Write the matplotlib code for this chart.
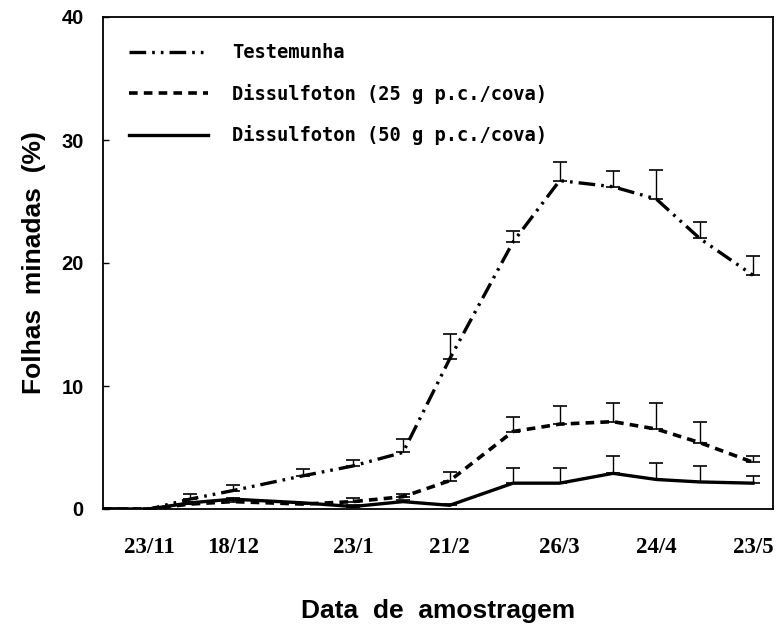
import matplotlib
matplotlib.use("Agg")
import matplotlib.pyplot as plt
import pandas as pd
import numpy as np

# ---- data ----
sample_dates = ['1989-11-09', '1989-11-23', '1989-12-05', '1989-12-18', '1990-01-08',
                '1990-01-23', '1990-02-07', '1990-02-21', '1990-03-12', '1990-03-26',
                '1990-04-11', '1990-04-24', '1990-05-07', '1990-05-23']
testemunha = [0, 0, 0.8, 1.5, 2.7, 3.5, 4.6, 12.2, 21.7, 26.7, 26.2, 25.2, 22.0, 19.0]
testemunha_err = [0, 0, 0.4, 0.45, 0.55, 0.5, 1.1, 2.0, 0.9, 1.5, 1.3, 2.4, 1.3, 1.6]
diss25 = [0, 0, 0.4, 0.6, 0.4, 0.6, 1.0, 2.3, 6.3, 6.9, 7.1, 6.5, 5.4, 3.8]
diss25_err = [0, 0, 0, 0.1, 0.1, 0.3, 0.2, 0.7, 1.2, 1.5, 1.5, 2.1, 1.7, 0.5]
diss50 = [0, 0, 0.5, 0.8, 0.5, 0.2, 0.6, 0.3, 2.1, 2.1, 2.9, 2.4, 2.2, 2.1]
diss50_err = [0, 0, 0.1, 0.1, 0, 0.1, 0.1, 0.1, 1.2, 1.2, 1.4, 1.3, 1.3, 0.6]
series_labels = ['Testemunha', 'Dissulfoton (25 g p.c./cova)', 'Dissulfoton (50 g p.c./cova)']
tick_dates = ['1989-11-23', '1989-12-18', '1990-01-23', '1990-02-21', '1990-03-26',
              '1990-04-24', '1990-05-23']
tick_labels = ['23/11', '18/12', '23/1', '21/2', '26/3', '24/4', '23/5']
yticks = [0, 10, 20, 30, 40]

x = pd.to_datetime(sample_dates)
W, H = 778, 628
fig = plt.figure(figsize=(W / 100, H / 100), dpi=100)
ax = fig.add_axes([103 / W, 1 - 509 / H, 670 / W, 492 / H])

styles = [
    dict(ls=(0, (5, 1.8, 0.8, 1.8, 0.8, 1.8)), lw=2.4),
    dict(ls=(0, (2.4, 1.7)), lw=2.6),
    dict(ls='-', lw=2.4),
]
data = [(testemunha, testemunha_err), (diss25, diss25_err), (diss50, diss50_err)]
handles = []
for (vals, err), st, lab in zip(data, styles, series_labels):
    vals = np.array(vals, float)
    err = np.array(err, float)
    ax.errorbar(x, vals, yerr=[np.zeros_like(err), err], fmt='none',
                ecolor='black', elinewidth=1.0, capsize=5, capthick=1.2, zorder=2)
    ln, = ax.plot(x, vals, color='black', linestyle=st['ls'], lw=st['lw'],
                  label=lab, zorder=3)
    handles.append(ln)

ax.set_ylim(0, 40)
ax.set_xlim(pd.Timestamp('1989-11-09'), pd.Timestamp('1990-05-29'))
ax.set_yticks(yticks)
ax.set_yticklabels([str(v) for v in yticks], fontfamily='Liberation Sans',
                   fontweight='bold', fontsize=14.5)
ax.set_xticks(pd.to_datetime(tick_dates))
ax.set_xticklabels(tick_labels, fontfamily='Liberation Serif', fontweight='bold',
                   fontsize=16.5)
ax.tick_params(axis='y', direction='in', length=4, width=1, pad=14)
ax.tick_params(axis='x', length=0, pad=20)
for s in ax.spines.values():
    s.set_linewidth(1.3)

ax.set_ylabel('Folhas  minadas  (%)', fontfamily='Liberation Sans', fontweight='bold',
              fontsize=19, labelpad=11)
ax.set_xlabel('Data  de  amostragem', fontfamily='Liberation Sans', fontweight='bold',
              fontsize=19, labelpad=30)

leg = ax.legend(handles=handles, loc='upper left', bbox_to_anchor=(0.0, 1.0),
                frameon=False, handlelength=4.2, handletextpad=1.3, labelspacing=1.15,
                borderaxespad=1.0,
                prop=dict(family='DejaVu Sans Mono', weight='bold', size=13.5))

fig.savefig('out.png', dpi=100)
